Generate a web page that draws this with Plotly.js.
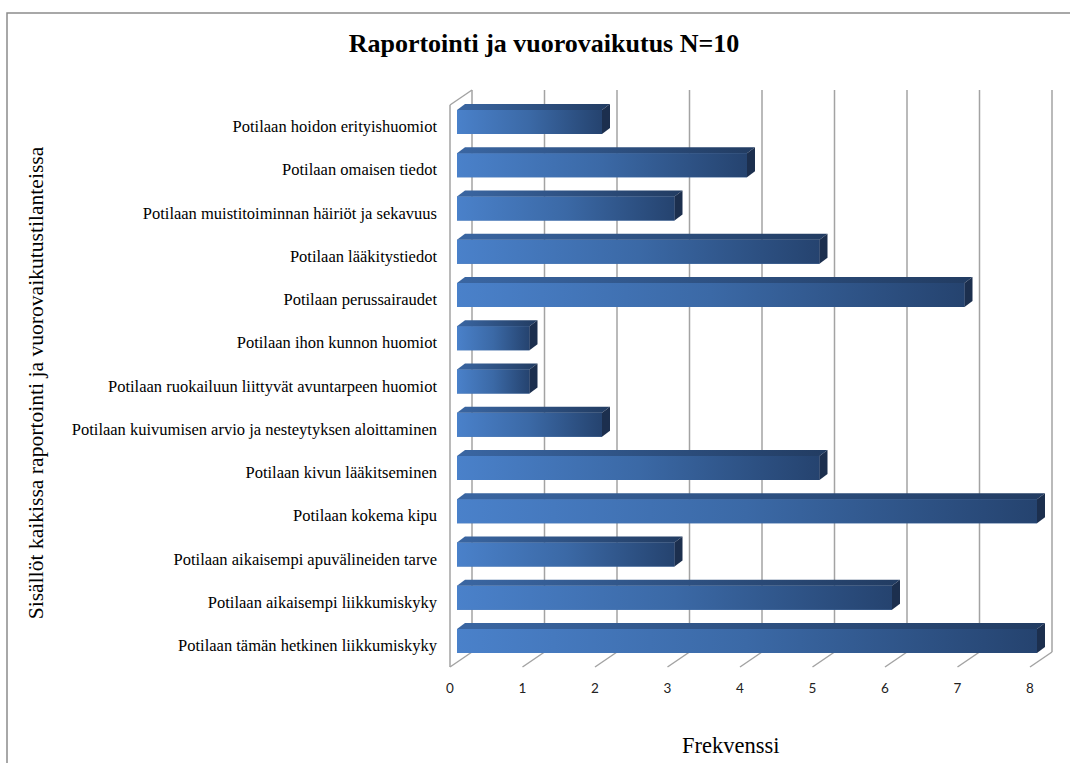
<!DOCTYPE html>
<html>
<head>
<meta charset="utf-8">
<script src="https://cdn.plot.ly/plotly-3.0.1.min.js"></script>
<style>html,body{margin:0;padding:0;background:#fff;}#chart{width:1070px;height:763px;}</style>
</head>
<body>
<div id="chart"></div>
<script>
// ---- data ----
const categories = [
  "Potilaan hoidon erityishuomiot",
  "Potilaan omaisen tiedot",
  "Potilaan muistitoiminnan häiriöt ja sekavuus",
  "Potilaan lääkitystiedot",
  "Potilaan perussairaudet",
  "Potilaan ihon kunnon huomiot",
  "Potilaan ruokailuun liittyvät avuntarpeen huomiot",
  "Potilaan kuivumisen arvio ja nesteytyksen aloittaminen",
  "Potilaan kivun lääkitseminen",
  "Potilaan kokema kipu",
  "Potilaan aikaisempi apuvälineiden tarve",
  "Potilaan aikaisempi liikkumiskyky",
  "Potilaan tämän hetkinen liikkumiskyky"
];
const values = [2, 4, 3, 5, 7, 1, 1, 2, 5, 8, 3, 6, 8];
const xTicks = [0, 1, 2, 3, 4, 5, 6, 7, 8];
const chartTitle = "Raportointi ja vuorovaikutus N=10";
const xTitle = "Frekvenssi";
const yTitle = "Sisällöt kaikissa raportointi ja vuorovaikutustilanteissa";

// ---- geometry (pixels) ----
const W = 1070, H = 763;
const PX_X = 72.5, PX_Y = 43.25;     // px per unit
const X0PX = 457, Y0PX = 122;         // pixel of value 0 / first category centre
const PLOT_L = 442, PLOT_R = 1058, PLOT_T = 86, PLOT_B = 680;
const px2x = p => (p - X0PX) / PX_X;
const px2y = p => (p - Y0PX) / PX_Y;
const xRange = [px2x(PLOT_L), px2x(PLOT_R)];
const yRange = [px2y(PLOT_B), px2y(PLOT_T)];

const barHalf = 12 / PX_Y;
const depthX = 8 / PX_X, depthY = 6 / PX_Y;
const wallFront = -7, wallBack = 15;       // px offsets along x
const floorFront = px2y(667), floorBack = px2y(652);
const topFront = px2y(105), topBack = px2y(90);

const gridColor = "#a3a3a3";
const idx = categories.map((c, i) => i);

const traces = [];
// base bars
traces.push({
  type: "bar", orientation: "h",
  x: values, y: idx, width: 2 * barHalf,
  marker: {color: "#3a68a6", line: {width: 0}},
  hoverinfo: "skip", showlegend: false
});
values.forEach((v, i) => {
  const yt = i - barHalf, yb = i + barHalf;
  // front face with gradient
  traces.push({
    type: "scatter", mode: "lines", showlegend: false, hoverinfo: "skip",
    x: [0, v, v, 0, 0], y: [yt, yt, yb, yb, yt],
    fill: "toself", line: {width: 0},
    fillgradient: {type: "horizontal", colorscale: [[0, "#4a81ca"], [0.5, "#3b69a6"], [1, "#25436f"]]}
  });
  // top face
  traces.push({
    type: "scatter", mode: "lines", showlegend: false, hoverinfo: "skip",
    x: [0, v, v + depthX, depthX, 0], y: [yt, yt, yt - depthY, yt - depthY, yt],
    fill: "toself", line: {width: 0},
    fillgradient: {type: "horizontal", colorscale: [[0, "#3a66a2"], [1, "#223c62"]]}
  });
  // side face
  traces.push({
    type: "scatter", mode: "lines", showlegend: false, hoverinfo: "skip",
    x: [v, v + depthX, v + depthX, v, v], y: [yt, yt - depthY, yb - depthY, yb, yt],
    fill: "toself", fillcolor: "#1c2f4e", line: {width: 0}
  });
});

const shapes = [];
// back wall gridlines + floor diagonals
xTicks.forEach(t => {
  shapes.push({type: "line", layer: "below", xref: "x", yref: "y", xsizemode: "pixel", xanchor: t,
    x0: wallBack, x1: wallBack, y0: floorBack, y1: topBack, line: {color: gridColor, width: 1.5}});
  shapes.push({type: "line", layer: "below", xref: "x", yref: "y", xsizemode: "pixel", xanchor: t,
    x0: wallFront, x1: wallBack, y0: floorFront, y1: floorBack, line: {color: gridColor, width: 1.5}});
});
// left wall front edge and top diagonal
shapes.push({type: "line", layer: "below", xref: "x", yref: "y", xsizemode: "pixel", xanchor: 0,
  x0: wallFront, x1: wallFront, y0: floorFront, y1: topFront, line: {color: gridColor, width: 1.5}});
shapes.push({type: "line", layer: "below", xref: "x", yref: "y", xsizemode: "pixel", xanchor: 0,
  x0: wallFront, x1: wallBack, y0: topFront, y1: topBack, line: {color: gridColor, width: 1.5}});
// outer chart border
const pw = PLOT_R - PLOT_L, ph = PLOT_B - PLOT_T;
shapes.push({type: "rect", layer: "below", xref: "paper", yref: "paper",
  x0: (7 - PLOT_L) / pw, x1: (1080 - PLOT_L) / pw,
  y0: (PLOT_B - 780) / ph, y1: (PLOT_B - 13) / ph,
  line: {color: "#8c8c8c", width: 1.5}, fillcolor: "rgba(0,0,0,0)"});

const layout = {
  width: W, height: H,
  paper_bgcolor: "#ffffff", plot_bgcolor: "rgba(0,0,0,0)",
  margin: {l: PLOT_L, r: W - PLOT_R, t: PLOT_T, b: H - PLOT_B, pad: 0},
  showlegend: false,
  barmode: "overlay",
  title: {text: "<b>" + chartTitle + "</b>", font: {family: "Liberation Serif", size: 26, color: "#000"},
    x: 544 / W, xref: "container", xanchor: "center", y: 1 - 43 / H, yref: "container", yanchor: "middle"},
  xaxis: {
    range: xRange, tickvals: xTicks, ticktext: xTicks.map(String),
    showgrid: false, zeroline: false, showline: false, ticks: "",
    ticklabelshift: -7, ticklabelstandoff: -2,
    tickfont: {family: "Lato, Liberation Sans", size: 13.5, color: "#222"},
    fixedrange: true
  },
  yaxis: {
    range: yRange, tickvals: idx.map(i => i + 0.1), ticktext: categories,
    showgrid: false, zeroline: false, showline: false, ticks: "",
    ticklabelstandoff: 4,
    tickfont: {family: "Liberation Serif", size: 16.5, color: "#000"},
    title: {text: yTitle, font: {family: "Liberation Serif", size: 21.6, color: "#000"}, standoff: 22},
    automargin: false, fixedrange: true
  },
  shapes: shapes,
  annotations: [{
    text: xTitle, xref: "paper", yref: "paper", showarrow: false,
    x: (731 - PLOT_L) / pw, y: (PLOT_B - 745) / ph, xanchor: "center", yanchor: "middle",
    font: {family: "Liberation Serif", size: 22.5, color: "#000"}
  }]
};

Plotly.newPlot("chart", traces, layout, {displayModeBar: false, staticPlot: true});
</script>
</body>
</html>
